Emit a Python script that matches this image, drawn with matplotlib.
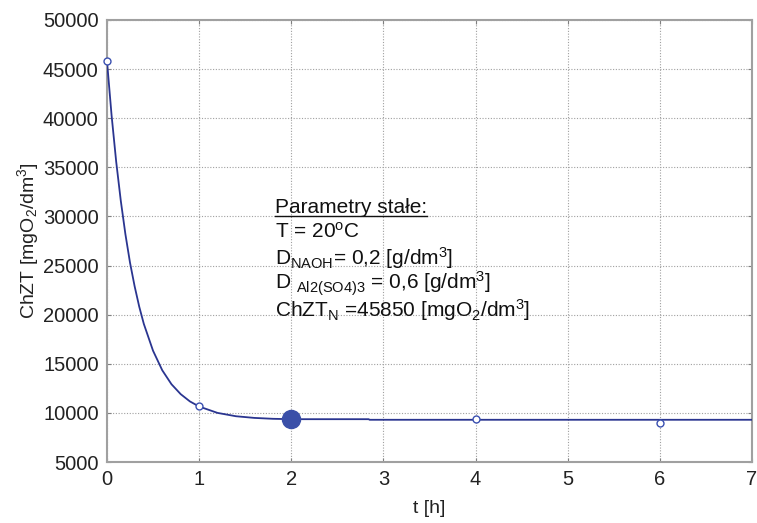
import matplotlib.pyplot as plt
from matplotlib.lines import Line2D

plt.rcParams['font.family'] = ['Liberation Sans', 'DejaVu Sans']
plt.rcParams['mathtext.fontset'] = 'custom'
plt.rcParams['mathtext.rm'] = 'Liberation Sans'
plt.rcParams['mathtext.it'] = 'Liberation Sans:italic'
plt.rcParams['mathtext.bf'] = 'Liberation Sans:bold'

# measured COD values
t_meas = [0, 1, 4, 6]
cod_meas = [45850, 10720, 9400, 9000]

# optimum point
t_opt = [2]
cod_opt = [9340]

# fitted decay curve
t_fit = [0, 0.05, 0.1, 0.15, 0.2, 0.25, 0.3, 0.35, 0.4, 0.5, 0.6, 0.7, 0.8,
         0.9, 1.0, 1.2, 1.4, 1.6, 1.8, 2.0, 2.84, 2.85, 7]
cod_fit = [45850, 40300, 35580, 31600, 28200, 25300, 22900, 20820, 19060,
           16330, 14340, 12920, 11910, 11170, 10650, 10000, 9660, 9490,
           9400, 9360, 9360, 9300, 9300]

params = [
    'Parametry stałe:',
    'T = 20$^{\\mathregular{o}}$C',
    'D$_{\\mathregular{NAOH}}$= 0,2 [g/dm$^{\\mathregular{3}}$]',
    'D $_{\\mathregular{Al2(SO4)3}}$ = 0,6 [g/dm$^{\\mathregular{3}}$]',
    'ChZT$_{\\mathregular{N}}$ =45850 [mgO$_{\\mathregular{2}}$/dm$^{\\mathregular{3}}$]',
]

fig = plt.figure(figsize=(7.57, 5.23), dpi=100)
ax = fig.add_axes([0.1413, 0.1166, 0.8521, 0.8452])

line_col = '#2a3590'
ax.plot(t_fit, cod_fit, color=line_col, lw=1.3, zorder=3)
ax.plot(t_meas, cod_meas, 'o', ms=5, mfc='white', mec='#3a50b0', mew=1.0, zorder=4,
        clip_on=False)
ax.plot(t_opt, cod_opt, 'o', ms=13, color='#3a4fa8', zorder=5)

ax.set_xlim(0, 7)
ax.set_ylim(5000, 50000)
ax.set_xticks(range(0, 8))
ax.set_yticks(range(5000, 50001, 5000))
ax.grid(True, ls=(0, (1, 1.5)), color='#a0a0a0', lw=0.8)
ax.tick_params(direction='in', length=3, labelsize=14.5, colors='#808080',
               labelcolor='#222222', top=True, right=True, pad=6)
for sp in ax.spines.values():
    sp.set_color('#a0a0a0')
    sp.set_linewidth(1.5)

ax.set_xlabel('t [h]', fontsize=14, color='#222222', labelpad=8)
ax.set_ylabel('ChZT [mgO$_{\\mathregular{2}}$/dm$^{\\mathregular{3}}$]', fontsize=14,
              color='#222222', labelpad=1)

ys = [30960, 28410, 25760, 23120, 20470]
texts = []
for s, y in zip(params, ys):
    texts.append(ax.text(1.82, y, s, fontsize=15, va='center', ha='left',
                         color='#111111', zorder=6))

# underline the header line
fig.canvas.draw()
bb = texts[0].get_window_extent()
fw, fh = fig.bbox.width, fig.bbox.height
y0 = (bb.y0 + 1) / fh
fig.add_artist(Line2D([bb.x0 / fw, bb.x1 / fw], [y0, y0], color='#111111', lw=1.0))

fig.savefig('out.png', dpi=100, facecolor='white')
